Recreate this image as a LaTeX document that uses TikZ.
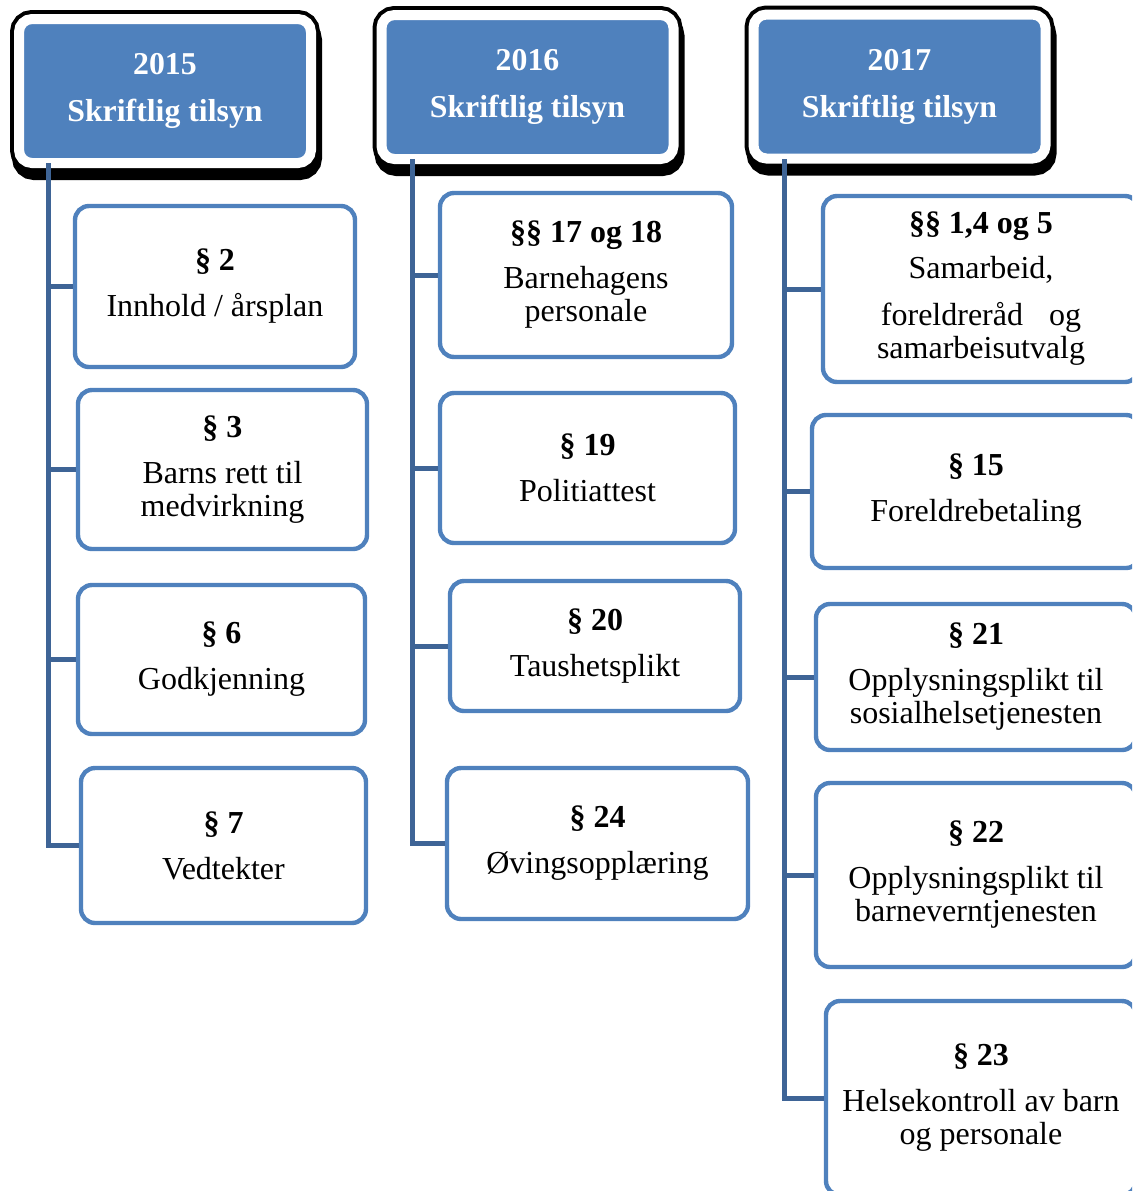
\documentclass[tikz,border=0pt]{standalone}
\usepackage{fontspec}
\setmainfont{Liberation Serif}

\definecolor{boxblue}{RGB}{79,129,189}
\definecolor{linkblue}{RGB}{62,100,150}

\tikzset{
  yearbox/.style={rounded corners=6.5pt, fill=boxblue, draw=white, line width=5pt,
    minimum width=146pt, minimum height=72pt, inner sep=0pt, align=center,
    text=white, font=\fontsize{15.9}{23.5}\selectfont\bfseries,
    preaction={fill=black, draw=black, line width=9pt,
      transform canvas={xshift=1pt, yshift=-4pt}},
    preaction={draw=black, line width=9pt}},
  lawbox/.style={rounded corners=7pt, draw=boxblue, line width=2.2pt, fill=white,
    inner sep=0pt, align=center, font=\fontsize{16}{16.5}\selectfont},
  trunk/.style={draw=linkblue, line width=2.5pt}
}

\begin{document}
\begin{tikzpicture}[x=0.5pt, y=-0.5pt]
  \useasboundingbox (0,0) rectangle (1132,1191);
  \clip (0,0) rectangle (1132,1191);

  % year headers
  \node[yearbox] (h15) at (165,91) {2015\\Skriftlig tilsyn};
  \node[yearbox] (h16) at (527.5,87) {2016\\Skriftlig tilsyn};
  \node[yearbox] (h17) at (899.5,86.5) {2017\\Skriftlig tilsyn};

  % 2015
  \node[lawbox, minimum width=140pt, minimum height=80.5pt] (b2) at (215,286.5)
    {\textbf{§ 2}\\[6.5pt]Innhold / årsplan};
  \node[lawbox, minimum width=144.5pt, minimum height=79.5pt] (b3) at (222.5,469.5)
    {\textbf{§ 3}\\[6.5pt]Barns rett til\\medvirkning};
  \node[lawbox, minimum width=143.5pt, minimum height=74.5pt] (b6) at (221.5,659.5)
    {\textbf{§ 6}\\[6.5pt]Godkjenning};
  \node[lawbox, minimum width=142.5pt, minimum height=77.5pt] (b7) at (223.5,845.5)
    {\textbf{§ 7}\\[6.5pt]Vedtekter};

  % 2016
  \node[lawbox, minimum width=146pt, minimum height=82pt] (b17) at (586,275)
    {\textbf{§§ 17 og 18}\\[6.5pt]Barnehagens\\personale};
  \node[lawbox, minimum width=147.5pt, minimum height=75pt] (b19) at (587.5,468)
    {\textbf{§ 19}\\[6.5pt]Politiattest};
  \node[lawbox, minimum width=145pt, minimum height=65pt] (b20) at (595,646)
    {\textbf{§ 20}\\[6.5pt]Taushetsplikt};
  \node[lawbox, minimum width=150.5pt, minimum height=75.5pt] (b24) at (597.5,843.5)
    {\textbf{§ 24}\\[6.5pt]Øvingsopplæring};

  % 2017
  \node[lawbox, minimum width=158pt, minimum height=93pt] (b1) at (981,289)
    {\textbf{§§ 1,4 og 5}\\[6pt]Samarbeid,\\[7pt]foreldreråd\hspace{13pt}og\\samarbeisutvalg};
  \node[lawbox, minimum width=164pt, minimum height=76.5pt] (b15) at (976,491.5)
    {\textbf{§ 15}\\[6.5pt]Foreldrebetaling};
  \node[lawbox, minimum width=160pt, minimum height=73pt] (b21) at (976,677)
    {\textbf{§ 21}\\[6.5pt]Opplysningsplikt til\\sosialhelsetjenesten};
  \node[lawbox, minimum width=160pt, minimum height=92pt] (b22) at (976,875)
    {\textbf{§ 22}\\[6.5pt]Opplysningsplikt til\\barneverntjenesten};
  \node[lawbox, minimum width=155pt, minimum height=97pt] (b23) at (981,1098)
    {\textbf{§ 23}\\[6.5pt]Helsekontroll av barn\\og personale};

  % trunks
  \coordinate (t15) at (48,163);
  \coordinate (t16) at (412,159);
  \coordinate (t17) at (784,159);

  \draw[trunk] (t15) |- (b7.west);
  \foreach \b in {b2,b3,b6}
    \draw[trunk] (t15 |- \b.west) -- (\b.west);

  \draw[trunk] (t16) |- (b24.west);
  \foreach \b in {b17,b19,b20}
    \draw[trunk] (t16 |- \b.west) -- (\b.west);

  \draw[trunk] (t17) |- (b23.west);
  \foreach \b in {b1,b15,b21,b22}
    \draw[trunk] (t17 |- \b.west) -- (\b.west);
\end{tikzpicture}
\end{document}
